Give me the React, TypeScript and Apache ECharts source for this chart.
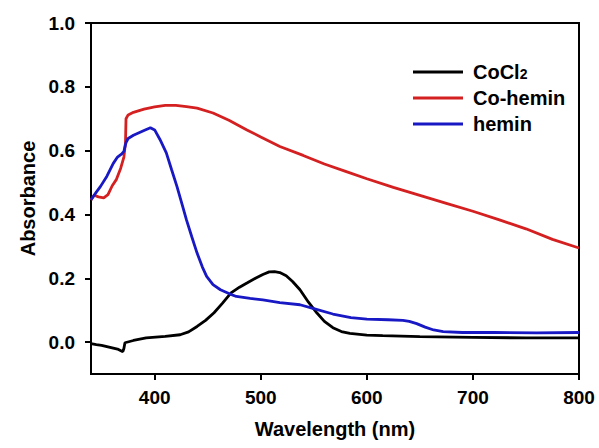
import React, { useEffect, useRef } from "react";
import * as echarts from "echarts";

const seriesNames = ["CoCl2", "Co-hemin", "hemin"];

const cocl2Wl = [340, 345, 350, 355, 360, 365, 370, 371, 372, 380, 392, 410, 424, 432, 440, 448, 456, 464, 472, 480, 487, 495, 502, 508, 513, 518, 524, 530, 537, 545, 553, 560, 568, 576, 584, 600, 615, 650, 700, 750, 800];
const cocl2Abs = [-0.005, -0.008, -0.01, -0.014, -0.018, -0.022, -0.03, -0.02, -0.002, 0.005, 0.013, 0.018, 0.023, 0.032, 0.049, 0.068, 0.092, 0.122, 0.154, 0.172, 0.185, 0.2, 0.212, 0.22, 0.221, 0.218, 0.208, 0.19, 0.164, 0.125, 0.091, 0.065, 0.045, 0.033, 0.027, 0.022, 0.02, 0.017, 0.015, 0.013, 0.013];

const coHeminWl = [340, 343, 347, 352, 356, 360, 364, 368, 371, 372.5, 373, 375, 380, 390, 400, 410, 420, 430, 440, 455, 470, 487, 500, 518, 540, 560, 580, 600, 625, 650, 675, 700, 725, 750, 775, 800];
const coHeminAbs = [0.445, 0.46, 0.455, 0.452, 0.462, 0.49, 0.51, 0.545, 0.58, 0.625, 0.7, 0.712, 0.72, 0.73, 0.737, 0.742, 0.742, 0.738, 0.733, 0.718, 0.695, 0.665, 0.643, 0.613, 0.585, 0.558, 0.535, 0.512, 0.485, 0.46, 0.435, 0.41, 0.383, 0.355, 0.322, 0.295];

const heminWl = [340, 345, 349, 355, 361, 365, 369, 371, 373, 375, 380, 390, 396, 400, 405, 411, 416, 421, 426, 430, 435, 440, 445, 449, 455, 462, 470, 477, 490, 502, 518, 537, 550, 568, 585, 600, 620, 634, 640, 647, 655, 663, 672, 690, 720, 760, 800];
const heminAbs = [0.446, 0.47, 0.488, 0.52, 0.56, 0.58, 0.59, 0.598, 0.625, 0.638, 0.648, 0.663, 0.672, 0.665, 0.635, 0.593, 0.54, 0.488, 0.43, 0.383, 0.33, 0.279, 0.235, 0.206, 0.18, 0.164, 0.152, 0.143, 0.137, 0.132, 0.124, 0.117, 0.105, 0.088, 0.077, 0.072, 0.07, 0.068, 0.065, 0.058, 0.047, 0.038, 0.033, 0.03, 0.03, 0.029, 0.03];

const xTicks = [400, 500, 600, 700, 800];
const yTicks = [0, 0.2, 0.4, 0.6, 0.8, 1.0];

const colors = ["#000000", "#d42020", "#1818c4"];
const FONT = "'Liberation Sans', Arial, sans-serif";

export default function App() {
  const ref = useRef<HTMLDivElement>(null);
  useEffect(() => {
    if (!ref.current) return;
    const chart = echarts.init(ref.current, null, { renderer: "svg" });
    const mk = (wl: number[], ab: number[]) => wl.map((w, i) => [w, ab[i]]);
    const datasets = [mk(cocl2Wl, cocl2Abs), mk(coHeminWl, coHeminAbs), mk(heminWl, heminAbs)];
    chart.setOption({
      animation: false,
      backgroundColor: "#ffffff",
      textStyle: { fontFamily: FONT },
      grid: { left: 91, right: 20, top: 23, bottom: 74, show: true, borderColor: "#000", borderWidth: 2, backgroundColor: "transparent" },
      legend: {
        orient: "vertical",
        left: 408,
        top: 57,
        itemWidth: 50,
        itemHeight: 3,
        itemGap: 6,
        icon: "rect",
        data: seriesNames,
        formatter: (n: string) => (n === "CoCl2" ? "CoCl{sub|2}" : n),
        textStyle: {
          fontFamily: FONT,
          fontSize: 20,
          fontWeight: "bold",
          color: "#000",
          padding: [0, 0, 0, 5],
          rich: { sub: { fontFamily: FONT, fontSize: 14, fontWeight: "bold", color: "#000", padding: [4, 0, 0, 0] } },
        },
      },
      xAxis: {
        type: "value",
        min: 340,
        max: 800,
        name: "Wavelength (nm)",
        nameLocation: "middle",
        nameGap: 45,
        nameTextStyle: { fontFamily: FONT, fontSize: 20, fontWeight: "bold", color: "#000" },
        axisLine: { show: true, onZero: false, lineStyle: { color: "#000", width: 2 } },
        axisTick: { show: true, length: 6, lineStyle: { color: "#000", width: 2 }, customValues: xTicks },
        axisLabel: { fontFamily: FONT, fontSize: 19, fontWeight: "bold", color: "#000", margin: 14, customValues: xTicks },
        splitLine: { show: false },
      },
      yAxis: {
        type: "value",
        min: -0.1,
        max: 1.0,
        name: "Absorbance",
        nameLocation: "middle",
        nameGap: 52,
        nameTextStyle: { fontFamily: FONT, fontSize: 20, fontWeight: "bold", color: "#000" },
        axisLine: { show: true, onZero: false, lineStyle: { color: "#000", width: 2 } },
        axisTick: { show: true, length: 6, lineStyle: { color: "#000", width: 2 }, customValues: yTicks },
        axisLabel: { fontFamily: FONT, fontSize: 19, fontWeight: "bold", color: "#000", margin: 16, customValues: yTicks, formatter: (v: number) => v.toFixed(1) },
        splitLine: { show: false },
      },
      series: seriesNames.map((name, i) => ({
        name,
        type: "line",
        data: datasets[i],
        showSymbol: false,
        symbol: "none",
        lineStyle: { color: colors[i], width: 2.8 },
        itemStyle: { color: colors[i] },
      })),
    });
    return () => chart.dispose();
  }, []);
  return <div ref={ref} style={{ position: "absolute", left: 0, top: 0, width: 599, height: 448 }} />;
}
